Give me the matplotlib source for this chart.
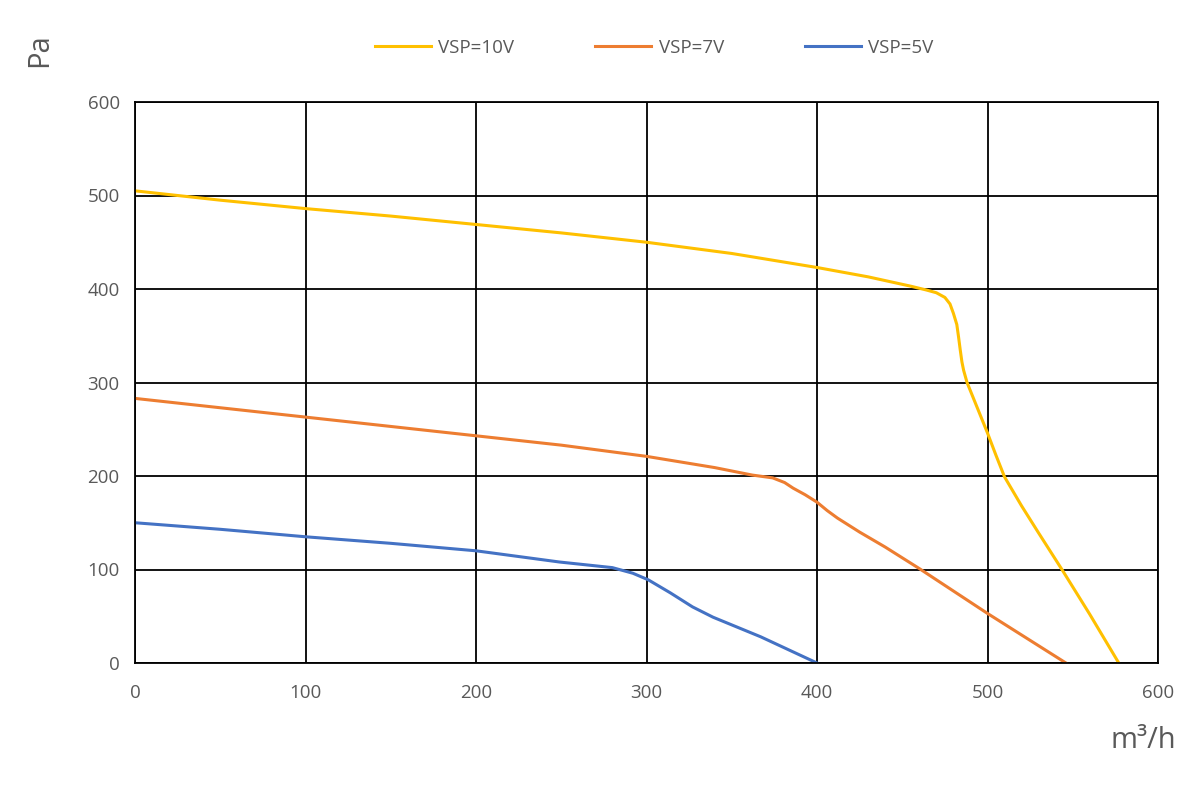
import matplotlib.pyplot as plt

# Fan curves
flow_10v = [0, 50, 100, 150, 200, 250, 300, 350, 400, 430, 455, 464, 470, 475, 478, 480, 482, 483, 484, 485, 486, 488,
            492, 496, 500, 505, 510, 520, 530, 544, 560, 577]
pa_10v = [505, 495, 486, 478, 469, 460, 450, 438, 423, 413, 403, 399, 396, 391, 384, 374, 362, 349, 335, 322, 313, 300,
          282, 264, 246, 222, 199, 168, 139, 99, 52, 0]

flow_7v = [0, 50, 100, 150, 200, 250, 300, 340, 362, 374, 381, 386, 393, 400, 406, 412, 425, 440, 460, 480, 500, 546]
pa_7v = [283, 273, 263, 253, 243, 233, 221, 209, 201, 198, 193, 187, 180, 172, 163, 155, 140, 124, 101, 77, 53, 0]

flow_5v = [0, 50, 100, 150, 200, 249, 280, 292, 301, 314, 327, 339, 367, 400]
pa_5v = [150, 143, 135, 128, 120, 108, 102, 96, 89, 75, 60, 49, 28, 0]

x_ticks = [0, 100, 200, 300, 400, 500, 600]
y_ticks = [0, 100, 200, 300, 400, 500, 600]

plt.rcParams['font.family'] = ['Open Sans', 'DejaVu Sans']

fig = plt.figure(figsize=(12, 8), dpi=100)
ax = fig.add_axes([135 / 1200, 1 - 663 / 800, (1158 - 135) / 1200, (663 - 102) / 800])

ax.plot(flow_10v, pa_10v, color='#FFC000', lw=2.2, label='VSP=10V')
ax.plot(flow_7v, pa_7v, color='#ED7D31', lw=2.2, label='VSP=7V')
ax.plot(flow_5v, pa_5v, color='#4472C4', lw=2.2, label='VSP=5V')

ax.set_xlim(0, 600)
ax.set_ylim(0, 600)
ax.set_xticks(x_ticks)
ax.set_yticks(y_ticks)
ax.grid(True, color='black', lw=1.3)
ax.set_axisbelow(True)
for s in ax.spines.values():
    s.set_color('black')
    s.set_linewidth(1.3)
ax.tick_params(length=0, labelsize=13.5, colors='#595959')
ax.tick_params(axis='y', pad=11)
ax.tick_params(axis='x', pad=15)

fig.text(40 / 1200, 1 - 50 / 800, 'Pa', rotation=90, fontsize=21, color='#595959',
         ha='center', va='center')
fig.text(1143 / 1200, 1 - 740 / 800, 'm³/h', fontsize=21, color='#595959',
         ha='center', va='center')

fig.legend(loc='center', bbox_to_anchor=(654 / 1200, 1 - 48 / 800), ncol=3, frameon=False,
           fontsize=13.5, handlelength=3.0, handletextpad=0.4, columnspacing=4.3,
           labelcolor='#595959')

fig.savefig('out.png')
